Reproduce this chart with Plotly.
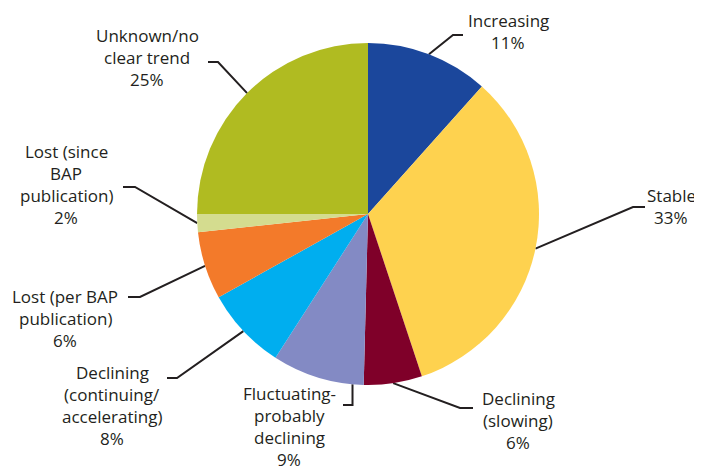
import numpy as np
import plotly.graph_objects as go

# ---- data ----
categories = ["Increasing", "Stable", "Declining (slowing)", "Fluctuating-probably declining",
              "Declining (continuing/accelerating)", "Lost (per BAP publication)",
              "Lost (since BAP publication)", "Unknown/no clear trend"]
values = [11.6, 33.3, 5.5, 8.7, 7.8, 6.4, 1.7, 25.0]
pct_labels = ["11%", "33%", "6%", "9%", "8%", "6%", "2%", "25%"]
label_lines = [["Increasing"], ["Stable"], ["Declining", "(slowing)"],
               ["Fluctuating-", "probably", "declining"],
               ["Declining", "(continuing/", "accelerating)"],
               ["Lost (per BAP", "publication)"],
               ["Lost (since", "BAP", "publication)"],
               ["Unknown/no", "clear trend"]]
colors = ["#1b479c", "#fed24f", "#7f0029", "#838ac4", "#00aeef", "#f37a2a", "#d4dc8f", "#b0bb21"]

# ---- layout constants (screen pixels) ----
VW, VH = 702, 470      # browser window
OFF = 8                # page body margin
W, H = VW - OFF, VH - OFF
CX, CY, R = 368, 214, 171
LINE_H = 22.2
TXT = "#231f20"
# text centre x, first line centre y, elbow x, elbow y, end x, anchor fraction within slice
label_layout = [
    (508, 20, 453, 35, 463, 0.5),
    (671, 195, 633, 207, 645, 0.5),
    (518, 398, 460, 408, 473, 0.5),
    (289, 393, None, 405, 343, 0.12),
    (112, 372, 177, 378, 167, 0.5),
    (65, 296, 140, 297, 128, 0.5),
    (66, 151, 135, 187, 123, 0.5),
    (147, 35, 218, 62, 208, 0.5),
]

fig = go.Figure()
fig.add_trace(go.Pie(
    labels=categories, values=values, sort=False, direction="clockwise", rotation=0,
    marker=dict(colors=colors, line=dict(width=0)), textinfo="none", hoverinfo="label+percent",
    domain=dict(x=[(CX - R - OFF) / W, (CX + R - OFF) / W],
                y=[1 - (CY + R - OFF) / H, 1 - (CY - R - OFF) / H]),
    showlegend=False,
))

total = float(np.sum(values))
cum = np.concatenate([[0], np.cumsum(values)])
lx, ly = [], []
annotations = []
for i, lay in enumerate(label_layout):
    tx, ty, ex, ey, endx, frac = lay
    a0 = cum[i] / total * 2 * np.pi
    a1 = cum[i + 1] / total * 2 * np.pi
    a = a0 + frac * (a1 - a0)
    rx = CX + R * np.sin(a)
    ry = CY - R * np.cos(a)
    if ex is None:
        ex = rx
    lx += [rx, ex, endx, None]
    ly += [ry, ey, ey, None]
    lines = label_lines[i] + [pct_labels[i]]
    for j, t in enumerate(lines):
        annotations.append(dict(x=tx, y=ty + j * LINE_H, xref="x", yref="y", text=t,
                                showarrow=False, xanchor="center", yanchor="middle",
                                font=dict(family="Open Sans", size=17, color=TXT)))

fig.add_trace(go.Scatter(x=lx, y=ly, mode="lines", line=dict(color=TXT, width=2),
                         hoverinfo="skip", showlegend=False))

fig.update_layout(
    width=W, height=H, margin=dict(l=0, r=0, t=0, b=0),
    paper_bgcolor="white", plot_bgcolor="rgba(0,0,0,0)",
    xaxis=dict(range=[OFF, VW], visible=False, fixedrange=True, domain=[0, 1]),
    yaxis=dict(range=[VH, OFF], visible=False, fixedrange=True, domain=[0, 1]),
    annotations=annotations,
)
fig.write_html("out.html")
